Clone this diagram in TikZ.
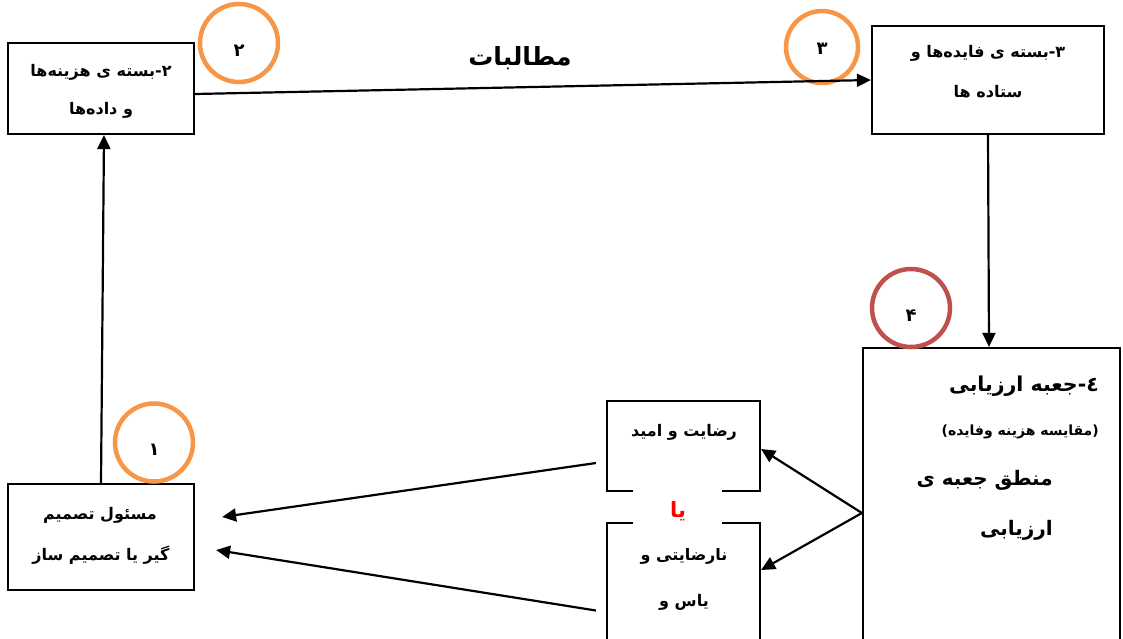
\documentclass[tikz,border=0pt]{standalone}
\usepackage{fontspec}
\usetikzlibrary{arrows.meta}
\newfontfamily\fa[Script=Arabic]{DejaVu Sans}
\TeXXeTstate=1
\newcommand{\rtltext}[1]{\beginR #1\endR}
\definecolor{orng}{HTML}{F79646}
\definecolor{rdc}{HTML}{C0504D}
\tikzset{
  box/.style={draw, line width=2.2pt, fill=white, inner sep=0pt},
  num/.style={circle, draw=orng, line width=4.5pt, inner sep=0pt},
  txt/.style={font=\fa\bfseries\fontsize{16}{19}\selectfont, inner sep=0pt},
  numtxt/.style={font=\fa\bfseries\fontsize{18}{20}\selectfont, inner sep=0pt},
  arr/.style={line width=2.2pt, -{Triangle[length=14pt,width=13pt]}},
}
\begin{document}
\begin{tikzpicture}[x=1pt,y=-1pt]
\useasboundingbox (0,0) rectangle (1123,638);
\clip (0,0) rectangle (1123,638);
% boxes
\node[box, minimum width=186pt, minimum height=91pt] (b2) at (101,88.5) {};
\node[box, minimum width=232pt, minimum height=108pt] (b3) at (988,80) {};
\node[box, minimum width=257pt, minimum height=312pt] (b4) at (991.5,504) {};
\node[box, minimum width=153pt, minimum height=90pt] (rad) at (683.5,446) {};
\node[box, minimum width=153pt, minimum height=137pt] (nar) at (683.5,591.5) {};
\node[box, minimum width=186pt, minimum height=106pt] (b1) at (101,537) {};
% circles
\node[num, minimum size=78pt] (c2) at (239,43) {};
\node[num, minimum size=72pt] (c3) at (822,47) {};
\node[num, draw=rdc, minimum size=78pt] (c4) at (911,308) {};
\node[num, minimum size=78pt] (c1) at (154,442.5) {};
\node[numtxt] (n2) at (239,51) {\rtltext{۲}};
\node[numtxt] (n3) at (822,49) {\rtltext{۳}};
\node[numtxt] (n4) at (911,316) {\rtltext{۴}};
\node[numtxt] (n1) at (154,450) {\rtltext{۱}};
% texts
\node[txt] (t2a) at (101,72) {\rtltext{۲-بسته ی هزینه^^^^200cها}};
\node[txt] (t2b) at (101,110) {\rtltext{و داده^^^^200cها}};
\node[txt] (t3a) at (988,53) {\rtltext{۳-بسته ی فایده^^^^200cها و}};
\node[txt] (t3b) at (988,92) {\rtltext{ستاده ها}};
\node[txt, font=\fa\bfseries\fontsize{25}{30}\selectfont] (mt) at (520,58) {\rtltext{مطالبات}};
\node[txt, anchor=east, font=\fa\bfseries\fontsize{20.5}{24}\selectfont] (t4a) at (1099,386) {\rtltext{٤-جعبه ارزیابی}};
\node[txt, anchor=east, font=\fa\bfseries\fontsize{14}{17}\selectfont] (t4b) at (1099,432) {\rtltext{(مقایسه هزینه وفایده)}};
\node[txt, anchor=east, font=\fa\bfseries\fontsize{20}{24}\selectfont] (t4c) at (1053,480) {\rtltext{منطق جعبه ی}};
\node[txt, anchor=east, font=\fa\bfseries\fontsize{20}{24}\selectfont] (t4d) at (1053,530) {\rtltext{ارزیابی}};
\node[txt] (tr) at (684,432) {\rtltext{رضایت و امید}};
\node[txt] (tna) at (684,556) {\rtltext{نارضایتی و}};
\node[txt] (tnb) at (684,602) {\rtltext{یاس و}};
\node[txt] (t1a) at (100,515) {\rtltext{مسئول تصمیم}};
\node[txt] (t1b) at (101,555) {\rtltext{گیر یا تصمیم ساز}};
% white patch with "یا"
\fill[white] (633,490) rectangle (722,548);
\node[txt, text=red, font=\fa\bfseries\fontsize{21}{24}\selectfont] (ya) at (678,511) {\rtltext{یا}};
% connectors
\draw[arr] (b1.north) -- ([xshift=3pt]b2.south);
\draw[arr] ([yshift=-5.5pt]b2.east) -- (b3.west);
\draw[arr] (b3.south) -- ([xshift=-2.5pt]b4.north);
\coordinate (b4l) at ([yshift=-9pt]b4.west);
\draw[arr] (b4l) -- ([yshift=-3pt]rad.east);
\draw[arr] (b4l) -- ([yshift=21.5pt]nar.east);
\draw[arr] ([shift={(-10pt,-17pt)}]rad.west) -- ([shift={(27pt,20pt)}]b1.east);
\draw[arr] ([shift={(-10pt,-19pt)}]nar.west) -- ([shift={(21pt,-13pt)}]b1.east);
\end{tikzpicture}
\end{document}
